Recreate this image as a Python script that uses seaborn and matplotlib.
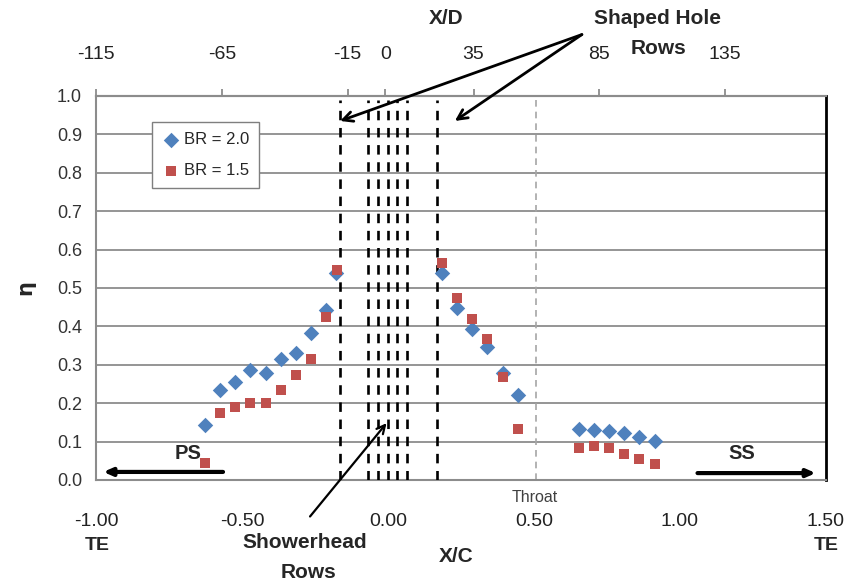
import matplotlib
matplotlib.use("Agg")
import matplotlib.pyplot as plt
import seaborn as sns
import pandas as pd
import numpy as np

# ---------------- data ----------------
xc_br20 = [-0.627, -0.575, -0.523, -0.473, -0.419, -0.366, -0.316, -0.265, -0.212, -0.178,
           0.184, 0.237, 0.289, 0.340, 0.393, 0.444,
           0.654, 0.704, 0.757, 0.808, 0.861, 0.914]
eta_br20 = [0.143, 0.234, 0.254, 0.286, 0.279, 0.316, 0.330, 0.382, 0.443, 0.540,
            0.538, 0.449, 0.392, 0.347, 0.278, 0.222,
            0.132, 0.130, 0.128, 0.122, 0.113, 0.102]
xc_br15 = [-0.627, -0.575, -0.523, -0.473, -0.419, -0.366, -0.316, -0.265, -0.212, -0.176,
           0.184, 0.237, 0.289, 0.340, 0.393, 0.444,
           0.654, 0.704, 0.757, 0.808, 0.861, 0.914]
eta_br15 = [0.045, 0.174, 0.191, 0.201, 0.201, 0.234, 0.274, 0.316, 0.424, 0.547,
            0.564, 0.473, 0.418, 0.367, 0.267, 0.133,
            0.083, 0.089, 0.084, 0.067, 0.054, 0.042]
series_names = ["BR = 2.0", "BR = 1.5"]
showerhead_rows = [-0.070, -0.035, 0.000, 0.030, 0.064]
shaped_hole_rows = [-0.164, 0.167]
throat_xc = 0.507
xc_ticks = [-1.0, -0.5, 0.0, 0.5, 1.0, 1.5]
xc_ticklabels = ["-1.00", "-0.50", "0.00", "0.50", "1.00", "1.50"]
xd_ticks = [-115, -65, -15, 0, 35, 85, 135]
eta_ticks = [0.0, 0.1, 0.2, 0.3, 0.4, 0.5, 0.6, 0.7, 0.8, 0.9, 1.0]

df = pd.concat([
    pd.DataFrame({"xc": xc_br20, "eta": eta_br20, "series": series_names[0]}),
    pd.DataFrame({"xc": xc_br15, "eta": eta_br15, "series": series_names[1]}),
], ignore_index=True)

# ---------------- style ----------------
sns.set_style("white")
plt.rcParams["font.family"] = ["Liberation Sans", "DejaVu Sans"]

W, H = 849, 587
fig = plt.figure(figsize=(W / 100, H / 100), dpi=100)
ax = fig.add_axes([96 / W, 1 - 480 / H, 730 / W, 384 / H])

def fp(px, py):
    return (px / W, 1 - py / H)

GRID = "#8c8c8c"
BLUE = "#4F81BD"
RED = "#C0504D"

sns.scatterplot(data=df[df.series == series_names[0]], x="xc", y="eta", marker="D",
                color=BLUE, s=62, linewidth=0, ax=ax, zorder=5, label=series_names[0])
sns.scatterplot(data=df[df.series == series_names[1]], x="xc", y="eta", marker="s",
                color=RED, s=58, linewidth=0, ax=ax, zorder=6, label=series_names[1])

ax.set_xlim(-1.0, 1.5)
ax.set_ylim(0.0, 1.0)

# gridlines
for yv in eta_ticks[1:-1]:
    ax.axhline(yv, color=GRID, lw=1.3, zorder=1)

# spines
for s in ["left", "bottom", "top"]:
    ax.spines[s].set_color(GRID)
    ax.spines[s].set_linewidth(1.5)
ax.spines["right"].set_color("black")
ax.spines["right"].set_linewidth(2.0)

# vertical dashed lines
for xv in shaped_hole_rows + showerhead_rows:
    ax.plot([xv, xv], [0, 0.99], color="black", lw=1.9, ls=(0, (3.6, 2.9)), zorder=3)
ax.plot([throat_xc, throat_xc], [0, 1.0], color="#a6a6a6", lw=1.2, ls=(0, (4, 3)), zorder=2)

# ticks
ax.set_yticks(eta_ticks)
ax.set_yticklabels([f"{v:.1f}" for v in eta_ticks])
ax.tick_params(axis="y", direction="inout", length=8, width=1.3, color=GRID,
               labelsize=13, labelcolor="#333333", pad=6)
ax.set_xticks(xc_ticks)
ax.set_xticklabels(xc_ticklabels)
ax.tick_params(axis="x", direction="out", length=5, width=1.3, color=GRID,
               labelsize=14, labelcolor="#222222", pad=19)
ax.set_xlabel("")
ax.set_ylabel("")

# top secondary axis (X/D)
sec = ax.secondary_xaxis("top", functions=(lambda x: 116 * x + 1, lambda d: (d - 1) / 116))
sec.set_xticks(xd_ticks)
sec.set_xticklabels([str(v) for v in xd_ticks])
sec.tick_params(direction="out", length=5, width=1.3, color=GRID, labelsize=14,
                labelcolor="#222222", pad=19)
sec.spines["top"].set_color(GRID)
sec.spines["top"].set_linewidth(1.5)

# legend
leg = ax.legend(loc="upper left", bbox_to_anchor=(0.077, 0.932), borderaxespad=0,
                fontsize=12, frameon=True, fancybox=False, edgecolor="#7f7f7f", framealpha=1,
                handletextpad=0.2, labelspacing=0.95, borderpad=0.6, handlelength=1.1)
leg.get_frame().set_linewidth(1.0)

# PS / SS arrows and labels
ax.annotate("", xy=(-0.975, 0.021), xytext=(-0.565, 0.021),
            arrowprops=dict(arrowstyle="-|>,head_length=0.5,head_width=0.22", lw=3, color="black",
                            shrinkA=0, shrinkB=0), zorder=7)
ax.annotate("", xy=(1.465, 0.018), xytext=(1.06, 0.018),
            arrowprops=dict(arrowstyle="-|>,head_length=0.5,head_width=0.22", lw=3, color="black",
                            shrinkA=0, shrinkB=0), zorder=7)
ax.text(-0.685, 0.07, "PS", fontsize=14.5, fontweight="bold", ha="center", va="center")
ax.text(1.212, 0.068, "SS", fontsize=14.5, fontweight="bold", ha="center", va="center")

# Shaped hole rows annotation
for tip in [(-0.164, 0.935), (0.229, 0.935)]:
    ax.annotate("", xy=tip, xytext=(0.664, 1.16), annotation_clip=False,
                arrowprops=dict(arrowstyle="->,head_length=0.7,head_width=0.35", lw=2,
                                color="black", shrinkA=0, shrinkB=0))
fig.text(*fp(658, 18), "Shaped Hole", fontsize=15, fontweight="bold", ha="center", va="center")
fig.text(*fp(658, 48), "Rows", fontsize=15, fontweight="bold", ha="center", va="center")

# Showerhead rows annotation
ax.annotate("", xy=(-0.005, 0.148), xytext=(-0.267, -0.095), annotation_clip=False,
            arrowprops=dict(arrowstyle="->,head_length=0.6,head_width=0.3", lw=1.6,
                            color="black", shrinkA=0, shrinkB=0))
fig.text(*fp(305, 542), "Showerhead", fontsize=15, fontweight="bold", ha="center", va="center")
fig.text(*fp(308, 573), "Rows", fontsize=15, fontweight="bold", ha="center", va="center")

# axis titles and extra labels
fig.text(*fp(446, 19), "X/D", fontsize=15, fontweight="bold", ha="center", va="center")
fig.text(*fp(456, 557), "X/C", fontsize=15, fontweight="bold", ha="center", va="center")
fig.text(*fp(25, 288), "η", fontsize=15, fontweight="bold", ha="center", va="center",
         rotation=90, family=["DejaVu Sans"])
fig.text(*fp(97, 545), "TE", fontsize=14, fontweight="bold", ha="center", va="center")
fig.text(*fp(826, 545), "TE", fontsize=14, fontweight="bold", ha="center", va="center")
fig.text(*fp(535, 498), "Throat", fontsize=11.5, ha="center", va="center", color="#404040")

fig.savefig("out.png", dpi=100)
